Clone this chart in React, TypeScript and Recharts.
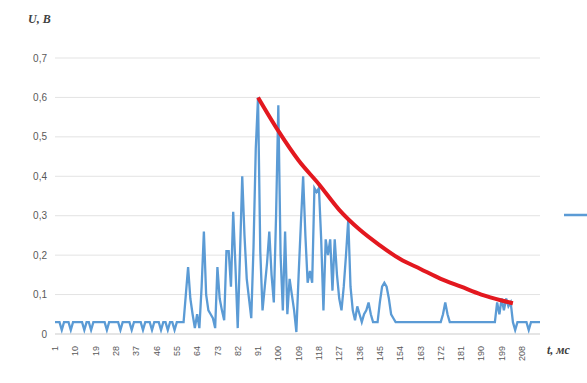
import { CartesianGrid, Line, LineChart, XAxis, YAxis } from "recharts";

// measured voltage, one value per millisecond sample (1..216)
const voltage = [
  0.03, 0.03, 0.03, 0.01, 0.03, 0.03, 0.03, 0.01, 0.03, 0.03,
  0.03, 0.03, 0.03, 0.01, 0.03, 0.03, 0.01, 0.03, 0.03, 0.03,
  0.03, 0.03, 0.03, 0.01, 0.03, 0.03, 0.03, 0.03, 0.03, 0.01,
  0.03, 0.03, 0.03, 0.03, 0.01, 0.03, 0.03, 0.03, 0.03, 0.01,
  0.03, 0.03, 0.03, 0.01, 0.03, 0.03, 0.03, 0.01, 0.03, 0.03,
  0.01, 0.03, 0.03, 0.01, 0.03, 0.03, 0.03, 0.03, 0.1, 0.17,
  0.09, 0.05, 0.015, 0.05, 0.015, 0.12, 0.26, 0.1, 0.06, 0.05,
  0.04, 0.015, 0.17, 0.09, 0.06, 0.035, 0.21, 0.21, 0.12, 0.31,
  0.17, 0.015, 0.2, 0.4, 0.25, 0.14, 0.09, 0.04, 0.22, 0.47,
  0.6, 0.21, 0.06, 0.12, 0.18, 0.26, 0.15, 0.08, 0.3, 0.58,
  0.2, 0.06, 0.26, 0.05, 0.14, 0.1, 0.06, 0.005, 0.15, 0.28,
  0.4, 0.25, 0.13, 0.16, 0.13, 0.37, 0.36, 0.37, 0.24, 0.06,
  0.24, 0.2, 0.24, 0.11, 0.24, 0.15, 0.09, 0.06, 0.12, 0.2,
  0.29, 0.12, 0.06, 0.035, 0.07, 0.05, 0.03, 0.05, 0.06, 0.08,
  0.05, 0.03, 0.03, 0.03, 0.08, 0.12, 0.13, 0.12, 0.09, 0.05,
  0.04, 0.03, 0.03, 0.03, 0.03, 0.03, 0.03, 0.03, 0.03, 0.03,
  0.03, 0.03, 0.03, 0.03, 0.03, 0.03, 0.03, 0.03, 0.03, 0.03,
  0.03, 0.03, 0.05, 0.08, 0.05, 0.03, 0.03, 0.03, 0.03, 0.03,
  0.03, 0.03, 0.03, 0.03, 0.03, 0.03, 0.03, 0.03, 0.03, 0.03,
  0.03, 0.03, 0.03, 0.03, 0.03, 0.03, 0.08, 0.05, 0.09, 0.06,
  0.09, 0.07, 0.08, 0.03, 0.01, 0.03, 0.03, 0.03, 0.03, 0.03,
  0.01, 0.03, 0.03, 0.03, 0.03, 0.03
];

// decay envelope (red), read at a few samples
const envelopeAt = [91, 100, 109, 118, 127, 136, 145, 154, 163, 172, 181, 190, 199, 204];
const envelope = [0.6, 0.515, 0.44, 0.38, 0.315, 0.265, 0.225, 0.19, 0.165, 0.14, 0.12, 0.1, 0.085, 0.078];

const yTicks = [0, 0.1, 0.2, 0.3, 0.4, 0.5, 0.6, 0.7];

const data = voltage.map((u, i) => {
  const t = i + 1;
  const k = envelopeAt.indexOf(t);
  return { t, u, fit: k >= 0 ? envelope[k] : null };
});

const fmt = (v: number) => String(v).replace(".", ",");

const XTick = ({ x, y, payload }: any) => (
  <text
    x={x}
    y={y + 4}
    transform={`rotate(-90, ${x}, ${y + 4})`}
    textAnchor="end"
    dy="0.35em"
    fontSize={9}
    fill="#595959"
    fontFamily="Liberation Sans, Arial, sans-serif"
  >
    {payload.value}
  </text>
);

export default function App() {
  return (
    <div style={{ position: "absolute", left: 0, top: 0, width: 587, height: 383, overflow: "hidden", background: "#fff" }}>
      <div
        style={{
          position: "absolute",
          left: 28,
          top: 12,
          fontFamily: "Liberation Serif, serif",
          fontWeight: "bold",
          fontStyle: "italic",
          fontSize: 12,
          color: "#404040"
        }}
      >
        U, В
      </div>
      <div
        style={{
          position: "absolute",
          left: 547,
          top: 343,
          whiteSpace: "nowrap",
          fontFamily: "Liberation Serif, serif",
          fontWeight: "bold",
          fontStyle: "italic",
          fontSize: 12,
          color: "#404040"
        }}
      >
        t, мс
      </div>
      <svg style={{ position: "absolute", left: 562, top: 210 }} width={25} height={10}>
        <line x1={2} y1={5} x2={25} y2={5} stroke="#5b9bd5" strokeWidth={2.5} />
      </svg>
      <LineChart
        width={587}
        height={383}
        data={data}
        margin={{ top: 58, right: 47, left: 10, bottom: 19 }}
      >
        <CartesianGrid stroke="#e3e3e3" vertical={false} />
        <XAxis
          dataKey="t"
          interval={8}
          tickLine={false}
          axisLine={{ stroke: "#d9d9d9" }}
          tick={<XTick />}
          height={30}
        />
        <YAxis
          domain={[0, 0.7]}
          ticks={yTicks}
          tickFormatter={fmt}
          tickLine={false}
          axisLine={false}
          width={45}
          tick={{ fontSize: 10, fill: "#595959", fontFamily: "Liberation Sans, Arial, sans-serif" }}
        />
        <Line
          type="linear"
          dataKey="u"
          stroke="#5b9bd5"
          strokeWidth={2.3}
          dot={false}
          isAnimationActive={false}
        />
        <Line
          type="monotone"
          dataKey="fit"
          stroke="#e3181f"
          strokeWidth={4}
          dot={false}
          connectNulls
          isAnimationActive={false}
        />
      </LineChart>
    </div>
  );
}
